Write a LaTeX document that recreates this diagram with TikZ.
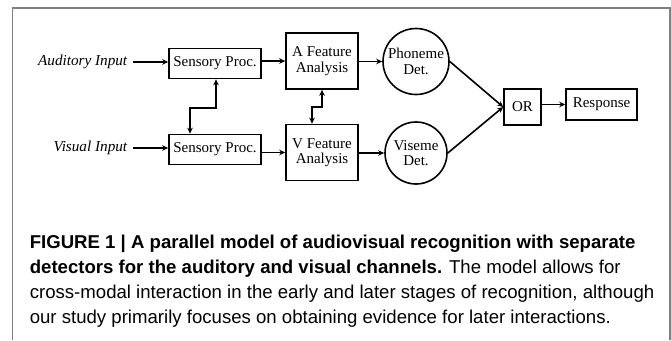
\documentclass[tikz,border=0pt]{standalone}
\usepackage{fontspec}
\setmainfont{Liberation Serif}
\newfontfamily\capfont{Liberation Sans}
\usetikzlibrary{arrows.meta}
\begin{document}
\begin{tikzpicture}[x=1pt,y=-1pt,
  every path/.style={line width=1.6pt},
  diag/.style={font=\fontsize{15}{15.5}\selectfont},
  box/.style={diag,draw,line width=1.6pt,inner sep=0pt,align=center},
  circ/.style={diag,draw,line width=1.6pt,circle,inner sep=0pt,align=center},
  lab/.style={font=\fontsize{15.2}{16}\selectfont\itshape,inner sep=0pt,inner xsep=5pt},
  arr/.style={-{Stealth[length=6pt,width=5.5pt]}},
  darr/.style={{Stealth[length=6pt,width=5.5pt]}-{Stealth[length=6pt,width=5.5pt]}},
  capline/.style={anchor=base west,inner sep=0pt,font=\capfont\fontsize{18.6}{22}\selectfont}]
\useasboundingbox (0,0) rectangle (671,340);
\draw[gray,line width=1.2pt] (12.5,340) -- (12.5,8) -- (670,8) -- (670,340);
\node[box,minimum width=92pt,minimum height=30pt] (sa) at (215,63.5) {Sensory Proc.};
\node[box,minimum width=72pt,minimum height=56pt] (af) at (322,61) {A Feature\\Analysis};
\node[circ,minimum size=66pt] (ph) at (416,61.5) {Phoneme\\Det.};
\node[box,minimum width=92pt,minimum height=30pt] (sv) at (215,149.5) {Sensory Proc.};
\node[box,minimum width=72pt,minimum height=56pt] (vf) at (322,152.5) {V Feature\\Analysis};
\node[circ,minimum size=62pt] (vs) at (416,153) {Viseme\\Det.};
\node[box,minimum width=37pt,minimum height=36pt] (or) at (522.5,107) {OR};
\node[box,minimum width=71pt,minimum height=31pt] (re) at (601.5,104.5) {Response};
\node[lab,anchor=east] (ai) at (133,62) {Auditory Input};
\node[lab,anchor=east] (vi) at (133,148) {Visual Input};
\draw[arr] (ai.east) -- (sa.west |- ai.east);
\draw[arr] (vi.east) -- (sv.west |- vi.east);
\draw[arr] (sa.east |- af.west) -- (af.west);
\draw[arr] (sv.east |- vf.west) -- (vf.west);
\draw[arr] (af.east |- ph.west) -- (ph.west);
\draw[arr] (vf.east |- vs.west) -- (vs.west);
\draw[darr] ([xshift=1pt]sa.south) -- ++(0,28.5) -| ([xshift=-25pt]sv.north);
\draw[darr] (af.south) -- ++(0,17) -| ([xshift=-10pt]vf.north);
\draw[arr] (ph.east) -- (or.west);
\draw[arr] (vs.east) -- (or.west);
\draw[arr] (or.east |- re.west) -- (re.west);
\node[capline] (c1) at (29,248) {\bfseries FIGURE 1 | A parallel model of audiovisual recognition with separate};
\node[capline] (c2) at (29,273.5) {\bfseries detectors for the auditory and visual channels.\mdseries{} The model allows for};
\node[capline] (c3) at (29,298.5) {cross-modal interaction in the early and later stages of recognition, although};
\node[capline] (c4) at (29,323) {our study primarily focuses on obtaining evidence for later interactions.};
\end{tikzpicture}
\end{document}
